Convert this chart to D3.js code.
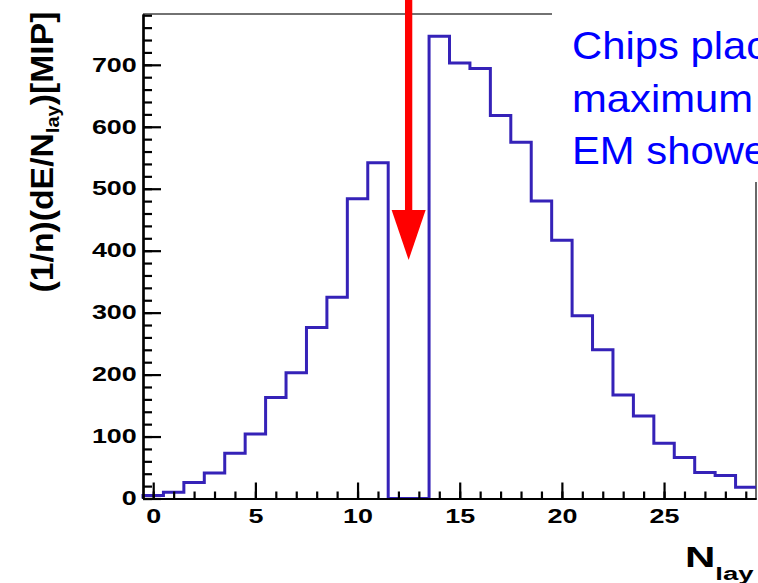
<!DOCTYPE html>
<head>
<meta charset="utf-8">
<style>
body { margin: 0; background: #fff; }
svg { display: block; }
.axis path, .axis line { fill: none; stroke: #000; stroke-width: 2.2; }
.axis text { font-family: "Liberation Sans", Arial, sans-serif; font-weight: bold; font-size: 19.5px; fill: #000; }
.hist { fill: none; stroke: #3522b8; stroke-width: 3; }
</style>
<script src="https://d3js.org/d3.v7.min.js"></script>
</head>
<body>
<div id="chart"></div>
<script>

	// histogram contents, one bin per layer number (bin centred on the integer)
	var layers = d3.range(0, 30);
	var energy = [5, 10, 26, 41, 73, 104, 163, 203, 276, 325,
	              484, 542, 0, 0, 746, 703, 694, 618, 575, 480,
	              417, 295, 240, 167, 133, 89, 66, 42, 37, 18];

	var xMajor = [0, 5, 10, 15, 20, 25];
	var xMinor = d3.range(0, 30);
	var yMajor = [0, 100, 200, 300, 400, 500, 600, 700];
	var yMinor = d3.range(0, 781, 20);

	var noteLines = ['Chips placed at', 'maximum of', 'EM shower'];
	var arrowAt = 12.5, arrowTip = 385;

	var W = 758, H = 583;

	var x = d3.scaleLinear()
					.domain([-0.5, 29.5])
					.range([143, 756]);

	var y = d3.scaleLinear()
					.domain([0, 782])
					.range([498.5, 14]);

	var svg = d3.select('#chart').append('svg')
		.attr('width', W)
		.attr('height', H);

	svg.append('rect').attr('width', W).attr('height', H).attr('fill', '#fff');

	// frame (top and right)
	svg.append('path')
		.attr('d', 'M' + x(-0.5) + ',' + y(782) + 'H' + x(29.5) + 'V' + y(0))
		.attr('fill', 'none')
		.attr('stroke', '#444')
		.attr('stroke-width', 1.6);

	// histogram outline
	var d = 'M' + x(-0.5) + ',' + y(0);
	layers.forEach(function(l, i) {
		d += 'V' + y(energy[i]) + 'H' + x(l + 0.5);
	});
	svg.append('path').attr('class', 'hist').attr('d', d);

	// y axis
	svg.append('g')
		.attr('class', 'axis')
		.attr('transform', 'translate(' + x(-0.5) + ',0)')
		.call(d3.axisLeft(y).tickValues(yMinor).tickSizeInner(-9).tickSizeOuter(0).tickFormat(''));

	var ya = svg.append('g')
		.attr('class', 'axis')
		.attr('transform', 'translate(' + x(-0.5) + ',0)')
		.call(d3.axisLeft(y).tickValues(yMajor).tickSizeInner(-18).tickSizeOuter(0).tickPadding(4.5));
	ya.selectAll('text').attr('transform', 'scale(1.38,1)');

	// x axis
	svg.append('g')
		.attr('class', 'axis')
		.attr('transform', 'translate(0,' + y(0) + ')')
		.call(d3.axisBottom(x).tickValues(xMinor).tickSizeInner(-7).tickSizeOuter(0).tickFormat(''));

	var xa = svg.append('g')
		.attr('class', 'axis')
		.attr('transform', 'translate(0,' + y(0) + ')')
		.call(d3.axisBottom(x).tickValues(xMajor).tickSizeInner(-16).tickSizeOuter(0).tickPadding(10.5));
	xa.selectAll('text').attr('transform', 'scale(1.38,1)');

	// y title
	var yt = svg.append('text')
		.attr('transform', 'translate(53,152) rotate(-90)')
		.attr('text-anchor', 'middle')
		.attr('textLength', 281)
		.attr('lengthAdjust', 'spacingAndGlyphs')
		.style('font-family', '"Liberation Sans", Arial, sans-serif')
		.style('font-weight', 'bold')
		.style('font-size', '32px');
	yt.append('tspan').text('(1/n)(dE/N');
	yt.append('tspan').attr('dy', 6).style('font-size', '19px').text('lay');
	yt.append('tspan').attr('dy', -6).text(')[MIP]');

	// x title
	var xt = svg.append('text')
		.attr('transform', 'translate(685,566.5) scale(1.45,1)')
		.style('font-family', '"Liberation Sans", Arial, sans-serif')
		.style('font-weight', 'bold')
		.style('font-size', '29px');
	xt.append('tspan').text('N');
	xt.append('tspan').attr('dy', 13).style('font-size', '19px').text('lay');

	// red arrow
	svg.append('line')
		.attr('x1', x(arrowAt)).attr('x2', x(arrowAt))
		.attr('y1', 0).attr('y2', y(arrowTip) - 48)
		.attr('stroke', '#ff0000')
		.attr('stroke-width', 7.3);
	svg.append('path')
		.attr('d', 'M' + (x(arrowAt) - 17) + ',' + (y(arrowTip) - 50) +
			'L' + (x(arrowAt) + 17) + ',' + (y(arrowTip) - 50) +
			'L' + x(arrowAt) + ',' + y(arrowTip) + 'Z')
		.attr('fill', '#ff0000');

	// note box
	svg.append('rect')
		.attr('x', 552).attr('y', 0)
		.attr('width', W - 552).attr('height', 182)
		.attr('fill', '#fff');

	var note = svg.append('g').attr('transform', 'translate(572,0) scale(1.1,1)');
	note.selectAll('text')
		.data(noteLines)
		.enter().append('text')
			.attr('x', 0)
			.attr('y', function(t, i) { return 59 + i * 52.6; })
			.style('font-family', '"Liberation Sans", Arial, sans-serif')
			.style('font-size', '38px')
			.attr('fill', '#0000ff')
			.text(function(t) { return t; });

</script>
</body>
